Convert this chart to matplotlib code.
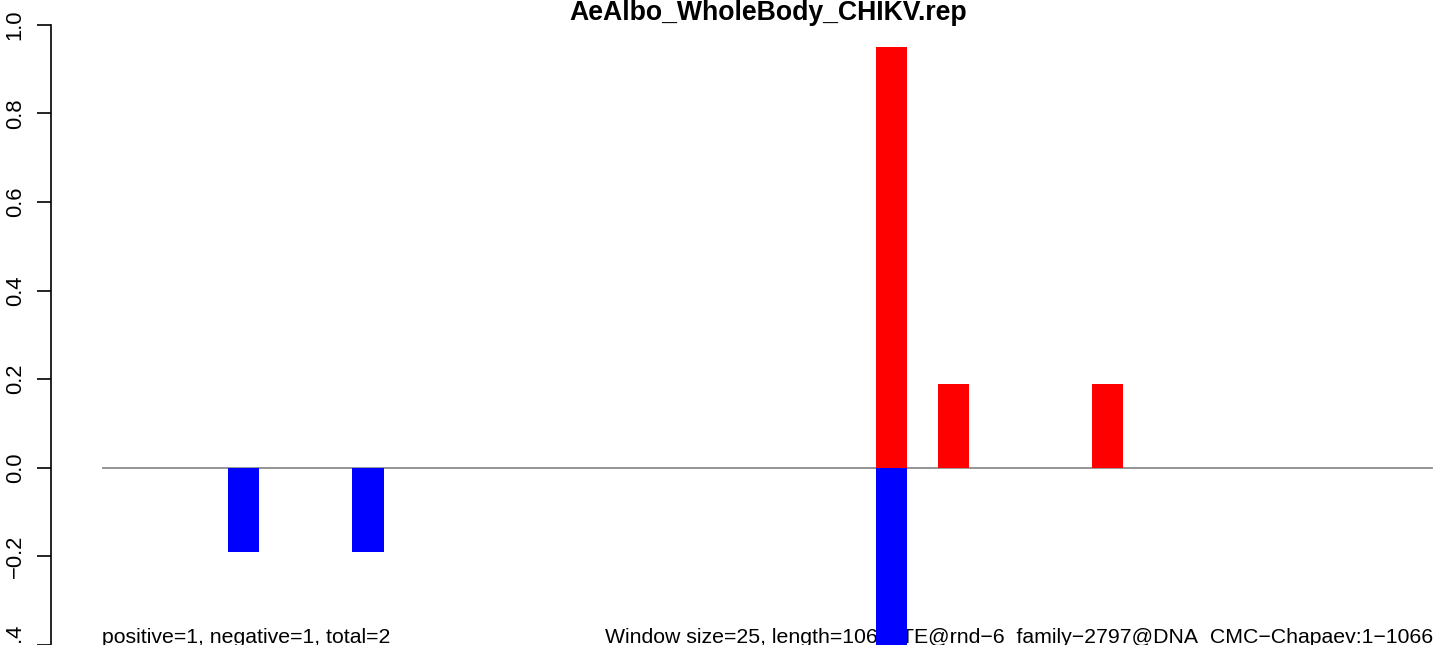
import matplotlib
matplotlib.use("Agg")
import matplotlib.pyplot as plt

# window starts (bp) and scores
pos_start = [620, 670, 793]
pos_val = [0.95, 0.19, 0.19]
neg_start = [100, 200, 620]
neg_val = [-0.19, -0.19, -0.95]
window = 25
seq_len = 1066
yticks = [-0.4, -0.2, 0.0, 0.2, 0.4, 0.6, 0.8, 1.0]

title = "AeAlbo_WholeBody_CHIKV.rep"
left_note = "positive=1, negative=1, total=2"
right_note = ("Window size=25, length=1066, "
              "TE@rnd\u22126_family\u22122797@DNA_CMC\u2212Chapaev:1\u22121066")

plt.rcParams["font.family"] = ["Liberation Sans", "DejaVu Sans"]

W, H = 1433, 645
fig = plt.figure(figsize=(W / 100, H / 100), dpi=100)
ax = fig.add_axes([50.7 / W, 0, 1 - 50.7 / W, 1])

px_per_bp = 1329 / seq_len
ax.set_xlim((50.7 - 103) / px_per_bp, (W - 103) / px_per_bp)
scale = 448.3 / 1.0
ax.set_ylim(-(H - 473.3) / scale, 473.3 / scale)

ax.plot([0, seq_len], [0, 0], color="#8c8c8c", lw=1.3, zorder=1)
ax.bar(pos_start, pos_val, width=window, align="edge", color="red", zorder=3)
ax.bar(neg_start, neg_val, width=window, align="edge", color="blue", zorder=3)

for s in ["top", "right", "bottom"]:
    ax.spines[s].set_visible(False)
ax.spines["left"].set_bounds(-0.4, 1.0)
ax.spines["left"].set_linewidth(1.2)
ax.set_xticks([])
ax.set_yticks(yticks)
ax.set_yticklabels([f"{v:.1f}".replace("-", "\u2212") for v in yticks],
                   rotation=90, va="center", fontsize=15.8)
ax.tick_params(axis="y", length=10, width=1.2, pad=8)

ax.text(104 / W - 50.7 / W, 2 / H, left_note, transform=ax.transAxes,
        fontsize=15.3, ha="left", va="baseline", zorder=2, clip_on=False)
ax.text(1, 2 / H, right_note, transform=ax.transAxes,
        fontsize=15.3, ha="right", va="baseline", zorder=2, clip_on=False)

fig.text(768 / W, 1 - 20 / H, title, fontsize=19.2, fontweight="bold",
         ha="center", va="baseline")

fig.savefig("out.png", dpi=100)
